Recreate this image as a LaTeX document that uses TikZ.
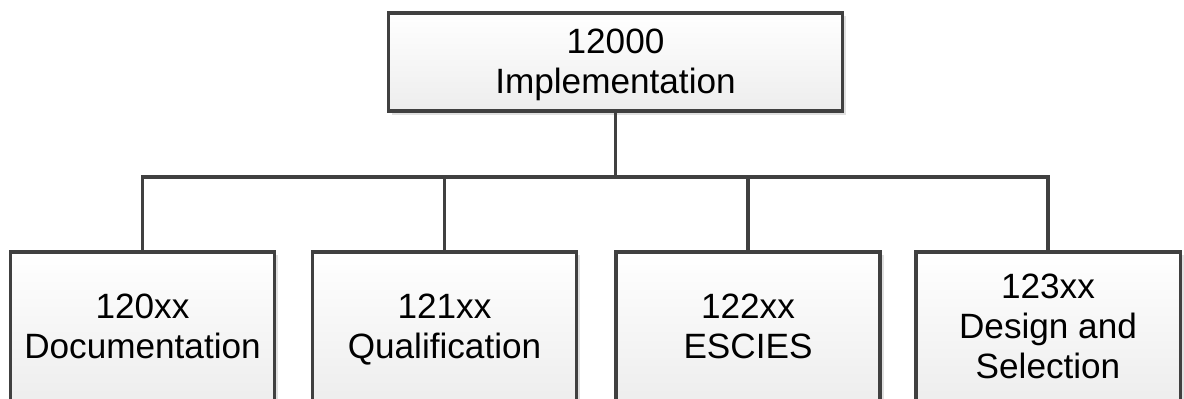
\documentclass[tikz,border=0pt]{standalone}
\usepackage{fontspec}
\setmainfont{Liberation Sans}
\usetikzlibrary{shadows}

\tikzset{
  wbsbox/.style={draw=black!75, line width=2.2pt, top color=white, bottom color=black!7,
    align=center, font=\fontsize{25}{28.5}\selectfont, inner sep=0pt, text depth=1pt,
    drop shadow={shadow xshift=2.5pt, shadow yshift=-2.5pt, fill=black!12, opacity=1}},
  topbox/.style={wbsbox, minimum width=11.35cm, minimum height=2.45cm},
  leafbox/.style={wbsbox, minimum width=6.6cm, minimum height=3.75cm},
  link/.style={draw=black!75, line width=2.2pt}
}

\begin{document}
\begin{tikzpicture}[x=0.025cm, y=0.025cm]
      \useasboundingbox (0,0) rectangle (1184,-399);
      % wbs nodes
      \node[topbox] (impl) at (615.5,-62) {12000\\Implementation};
      \node[leafbox] (doc) at (142.5,-327) {120xx\\Documentation};
      \node[leafbox] (qual) at (444.5,-327) {121xx\\Qualification};
      \node[leafbox] (escies) at (748,-327) {122xx\\ESCIES};
      \node[leafbox] (design) at (1048,-327) {123xx\\Design and\\Selection};
      \coordinate (bus) at (0,-177);
      % wbs edges
      \draw[link] (impl.south) -- (impl.south |- bus);
      \draw[link] (doc.north) -- (doc.north |- bus) -- (design.north |- bus) -- (design.north);
      \draw[link] (qual.north) -- (qual.north |- bus);
      \draw[link] (escies.north) -- (escies.north |- bus);
    \end{tikzpicture}
\end{document}
